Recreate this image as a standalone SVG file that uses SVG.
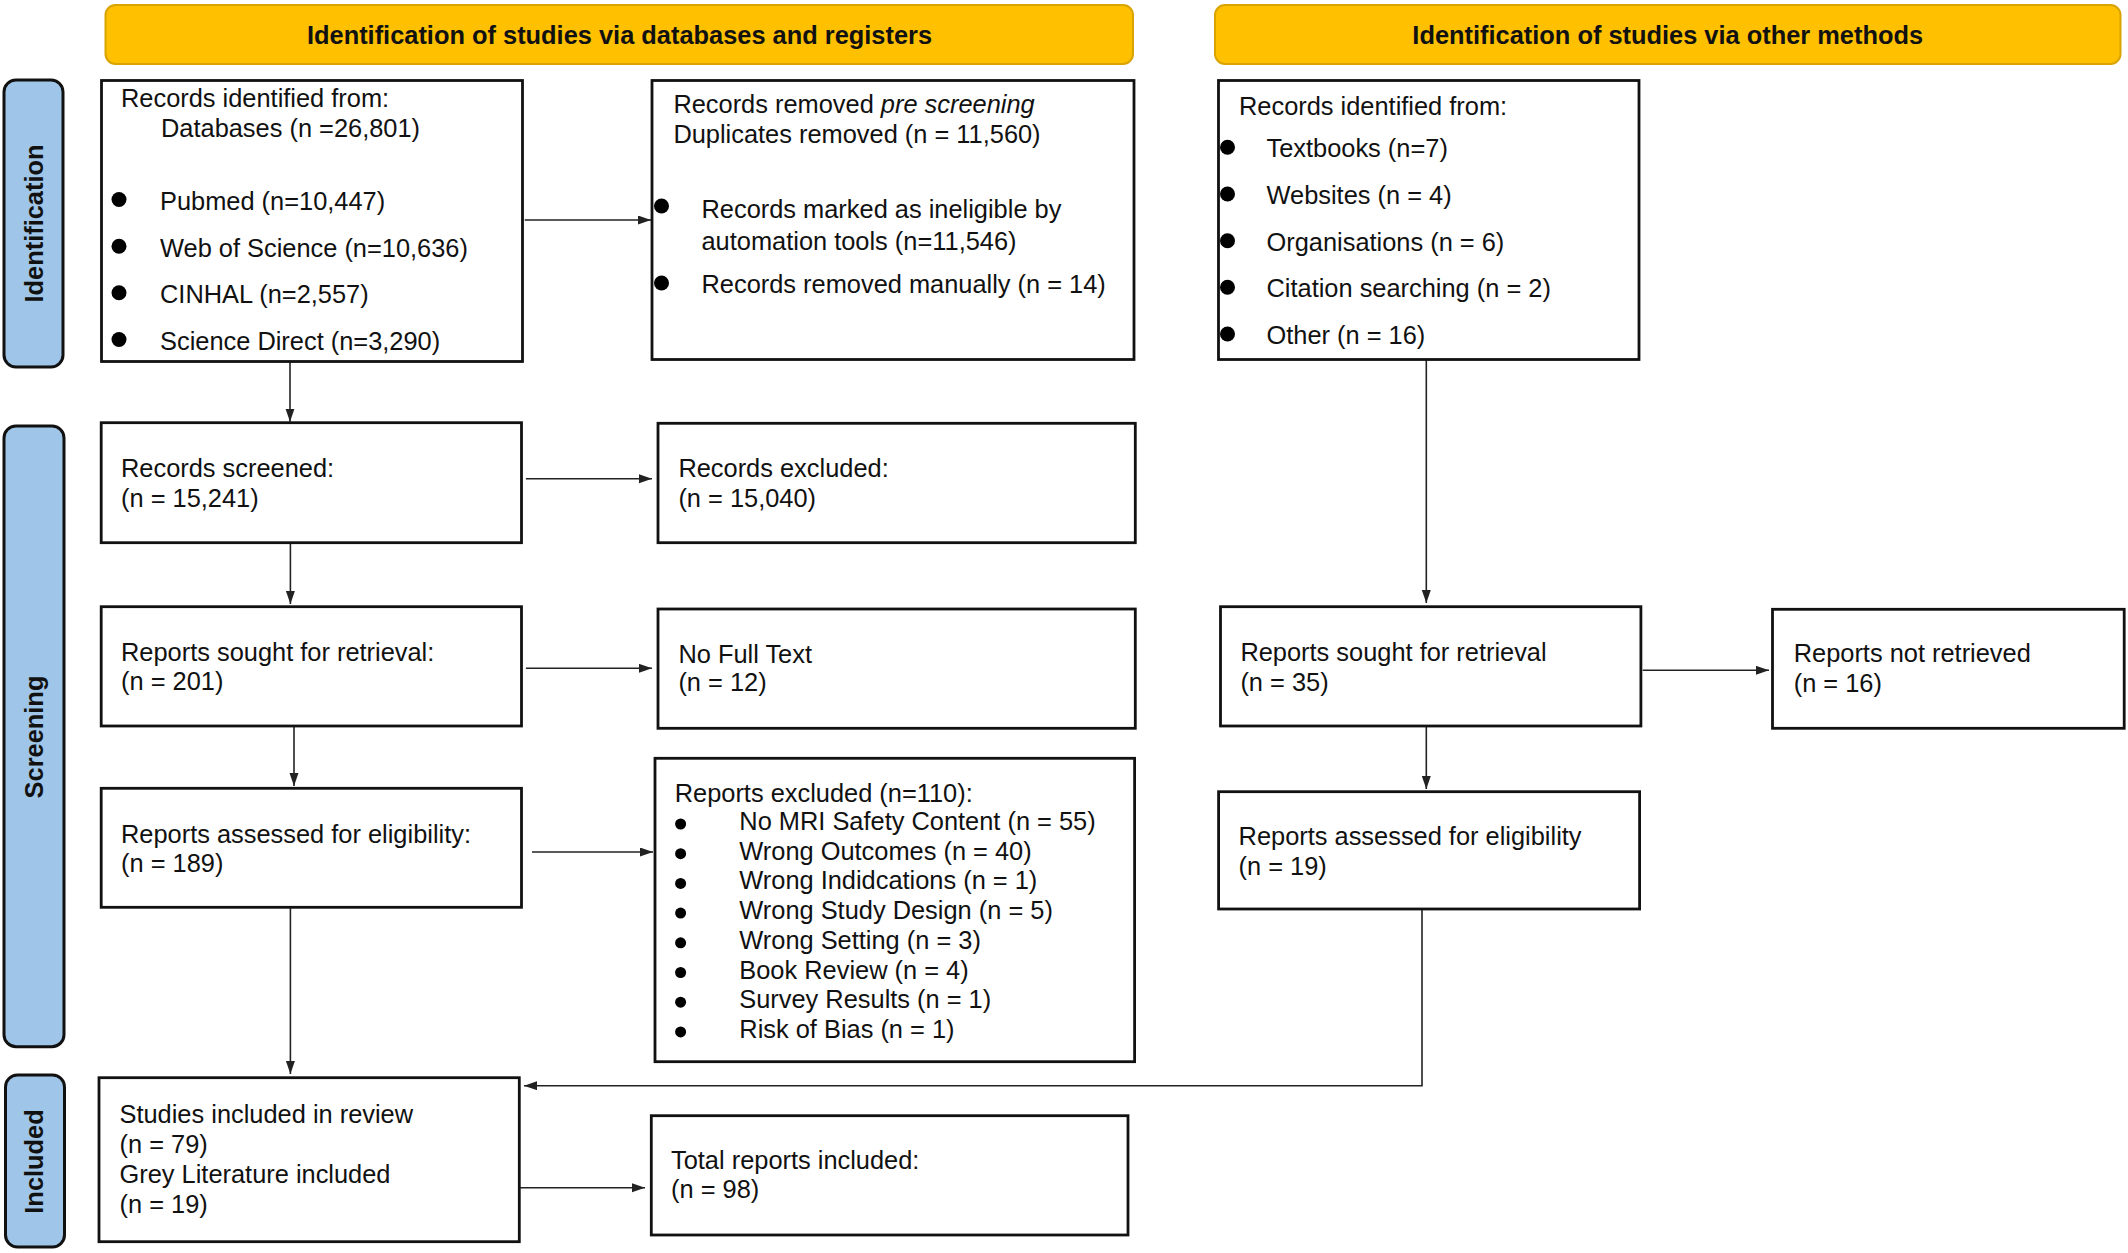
<svg xmlns="http://www.w3.org/2000/svg" width="2128" height="1253" viewBox="0 0 2128 1253">
<defs>
<style>
.t{font-family:"Liberation Sans",Arial,sans-serif;font-size:25.4px;fill:#111}
.b{font-family:"Liberation Sans",Arial,sans-serif;font-size:25.4px;font-weight:bold;fill:#111}
.box{fill:#fff;stroke:#111;stroke-width:2.8}
.ban{fill:#FFC000;stroke:#D9A400;stroke-width:2}
.side{fill:#9FC5E8;stroke:#111;stroke-width:3}
.ln{fill:none;stroke:#222;stroke-width:1.6}
.dot{fill:#000}
</style>
<marker id="ah" markerUnits="userSpaceOnUse" markerWidth="14" markerHeight="10" refX="13" refY="4.5" orient="auto">
<path d="M0,0 L13,4.5 L0,9 z" fill="#222"/>
</marker>
</defs>
<rect width="2128" height="1253" fill="#fff"/>

<g id="banner-databases">
<rect class="ban" x="105.5" y="5" width="1027.5" height="59" rx="10"/>
<text class="b" x="619.5" y="44" text-anchor="middle">Identification of studies via databases and registers</text>
</g>
<g id="banner-other">
<rect class="ban" x="1215" y="5" width="905.5" height="59" rx="10"/>
<text class="b" x="1667.7" y="44" text-anchor="middle">Identification of studies via other methods</text>
</g>

<g id="side-identification">
<rect class="side" x="4" y="80" width="59" height="287" rx="12"/>
<text class="b" transform="translate(43.3,223.5) rotate(-90)" text-anchor="middle">Identification</text>
</g>
<g id="side-screening">
<rect class="side" x="4" y="426" width="60" height="620.7" rx="12"/>
<text class="b" transform="translate(43.3,737) rotate(-90)" text-anchor="middle">Screening</text>
</g>
<g id="side-included">
<rect class="side" x="5.5" y="1075" width="59" height="172" rx="12"/>
<text class="b" transform="translate(43.3,1161.5) rotate(-90)" text-anchor="middle">Included</text>
</g>

<g id="connectors">
<line class="ln" x1="290" y1="361.5" x2="290" y2="421.7" marker-end="url(#ah)"/>
<line class="ln" x1="290.4" y1="542.7" x2="290.4" y2="604" marker-end="url(#ah)"/>
<line class="ln" x1="294" y1="724" x2="294" y2="786" marker-end="url(#ah)"/>
<line class="ln" x1="290.4" y1="907.3" x2="290.4" y2="1074" marker-end="url(#ah)"/>
<line class="ln" x1="1426.3" y1="359.5" x2="1426.3" y2="603" marker-end="url(#ah)"/>
<line class="ln" x1="1426.3" y1="726" x2="1426.3" y2="789" marker-end="url(#ah)"/>
<polyline class="ln" points="1422,909 1422,1085.7 524,1085.7" marker-end="url(#ah)"/>
<line class="ln" x1="519" y1="1187.7" x2="645" y2="1187.7" marker-end="url(#ah)"/>
<line class="ln" x1="524.7" y1="220" x2="651" y2="220" marker-end="url(#ah)"/>
<line class="ln" x1="525.9" y1="478.7" x2="652" y2="478.7" marker-end="url(#ah)"/>
<line class="ln" x1="525.9" y1="668.3" x2="652" y2="668.3" marker-end="url(#ah)"/>
<line class="ln" x1="532" y1="852" x2="653" y2="852" marker-end="url(#ah)"/>
<line class="ln" x1="1642.7" y1="670.3" x2="1769" y2="670.3" marker-end="url(#ah)"/>
</g>

<g id="records-identified-db">
<rect class="box" x="101.5" y="80.5" width="421" height="281"/>
<text class="t" x="121" y="107">Records identified from:</text>
<text class="t" x="161" y="137">Databases (n =26,801)</text>
<circle class="dot" cx="119" cy="199.5" r="7.5"/>
<text class="t" x="160" y="210">Pubmed (n=10,447)</text>
<circle class="dot" cx="119" cy="246.2" r="7.5"/>
<text class="t" x="160" y="256.7">Web of Science (n=10,636)</text>
<circle class="dot" cx="119" cy="292.8" r="7.5"/>
<text class="t" x="160" y="303.3">CINHAL (n=2,557)</text>
<circle class="dot" cx="119" cy="339.5" r="7.5"/>
<text class="t" x="160" y="350">Science Direct (n=3,290)</text>
</g>

<g id="records-removed">
<rect class="box" x="652" y="80.5" width="482" height="279"/>
<text class="t" x="673.4" y="113.3">Records removed <tspan font-style="italic">pre screening</tspan></text>
<text class="t" x="673.4" y="143.3">Duplicates removed (n = 11,560)</text>
<circle class="dot" cx="661.5" cy="206" r="7.5"/>
<text class="t" x="701.5" y="218.3">Records marked as ineligible by</text>
<text class="t" x="701.5" y="250">automation tools (n=11,546)</text>
<circle class="dot" cx="661.5" cy="283" r="7.5"/>
<text class="t" x="701.5" y="293.3">Records removed manually (n = 14)</text>
</g>

<g id="records-identified-other">
<rect class="box" x="1218.5" y="80.5" width="420.5" height="279"/>
<text class="t" x="1239" y="115">Records identified from:</text>
<circle class="dot" cx="1227.5" cy="147.3" r="7.5"/>
<text class="t" x="1266.5" y="157.3">Textbooks (n=7)</text>
<circle class="dot" cx="1227.5" cy="194" r="7.5"/>
<text class="t" x="1266.5" y="204">Websites (n = 4)</text>
<circle class="dot" cx="1227.5" cy="240.7" r="7.5"/>
<text class="t" x="1266.5" y="250.7">Organisations (n = 6)</text>
<circle class="dot" cx="1227.5" cy="287.3" r="7.5"/>
<text class="t" x="1266.5" y="297.3">Citation searching (n = 2)</text>
<circle class="dot" cx="1227.5" cy="334" r="7.5"/>
<text class="t" x="1266.5" y="344">Other (n = 16)</text>
</g>

<g id="records-screened">
<rect class="box" x="101.2" y="422.7" width="420.3" height="120"/>
<text class="t" x="121" y="477.3">Records screened:</text>
<text class="t" x="121" y="507">(n = 15,241)</text>
</g>
<g id="records-excluded">
<rect class="box" x="658" y="423.3" width="477.3" height="119.4"/>
<text class="t" x="678.4" y="477">Records excluded:</text>
<text class="t" x="678.4" y="507">(n = 15,040)</text>
</g>

<g id="reports-sought-db">
<rect class="box" x="101.2" y="606.7" width="420.3" height="119.3"/>
<text class="t" x="121" y="661">Reports sought for retrieval:</text>
<text class="t" x="121" y="690">(n = 201)</text>
</g>
<g id="no-full-text">
<rect class="box" x="658" y="609" width="477.3" height="119.3"/>
<text class="t" x="678.4" y="662.7">No Full Text</text>
<text class="t" x="678.4" y="691">(n = 12)</text>
</g>

<g id="reports-assessed-db">
<rect class="box" x="101.2" y="788.3" width="420.3" height="119"/>
<text class="t" x="121" y="843">Reports assessed for eligibility:</text>
<text class="t" x="121" y="871.7">(n = 189)</text>
</g>
<g id="reports-excluded">
<rect class="box" x="655" y="758.3" width="479.6" height="303.4"/>
<text class="t" x="674.7" y="801.7">Reports excluded (n=110):</text>
<circle class="dot" cx="680.6" cy="824" r="5.5"/>
<text class="t" x="739.3" y="830">No MRI Safety Content (n = 55)</text>
<circle class="dot" cx="680.6" cy="853.7" r="5.5"/>
<text class="t" x="739.3" y="859.7">Wrong Outcomes (n = 40)</text>
<circle class="dot" cx="680.6" cy="883.4" r="5.5"/>
<text class="t" x="739.3" y="889.4">Wrong Indidcations (n = 1)</text>
<circle class="dot" cx="680.6" cy="913.1" r="5.5"/>
<text class="t" x="739.3" y="919.1">Wrong Study Design (n = 5)</text>
<circle class="dot" cx="680.6" cy="942.8" r="5.5"/>
<text class="t" x="739.3" y="948.8">Wrong Setting (n = 3)</text>
<circle class="dot" cx="680.6" cy="972.5" r="5.5"/>
<text class="t" x="739.3" y="978.5">Book Review (n = 4)</text>
<circle class="dot" cx="680.6" cy="1002.2" r="5.5"/>
<text class="t" x="739.3" y="1008.2">Survey Results (n = 1)</text>
<circle class="dot" cx="680.6" cy="1031.9" r="5.5"/>
<text class="t" x="739.3" y="1037.9">Risk of Bias (n = 1)</text>
</g>

<g id="reports-sought-other">
<rect class="box" x="1220.5" y="606.7" width="420.4" height="119.3"/>
<text class="t" x="1240.4" y="660.7">Reports sought for retrieval</text>
<text class="t" x="1240.4" y="691">(n = 35)</text>
</g>
<g id="reports-not-retrieved">
<rect class="box" x="1772.5" y="609.3" width="351.7" height="119"/>
<text class="t" x="1793.7" y="662.3">Reports not retrieved</text>
<text class="t" x="1793.7" y="692.3">(n = 16)</text>
</g>
<g id="reports-assessed-other">
<rect class="box" x="1218.6" y="791.7" width="421" height="117.3"/>
<text class="t" x="1238.6" y="845">Reports assessed for eligibility</text>
<text class="t" x="1238.6" y="875">(n = 19)</text>
</g>

<g id="studies-included">
<rect class="box" x="99" y="1077.7" width="420.3" height="164"/>
<text class="t" x="119.5" y="1123.3">Studies included in review</text>
<text class="t" x="119.5" y="1152.7">(n = 79)</text>
<text class="t" x="119.5" y="1182.7">Grey Literature included</text>
<text class="t" x="119.5" y="1212.7">(n = 19)</text>
</g>
<g id="total-reports">
<rect class="box" x="651.3" y="1115.7" width="476.7" height="119.3"/>
<text class="t" x="671" y="1169.3">Total reports included:</text>
<text class="t" x="671" y="1198.3">(n = 98)</text>
</g>
</svg>
